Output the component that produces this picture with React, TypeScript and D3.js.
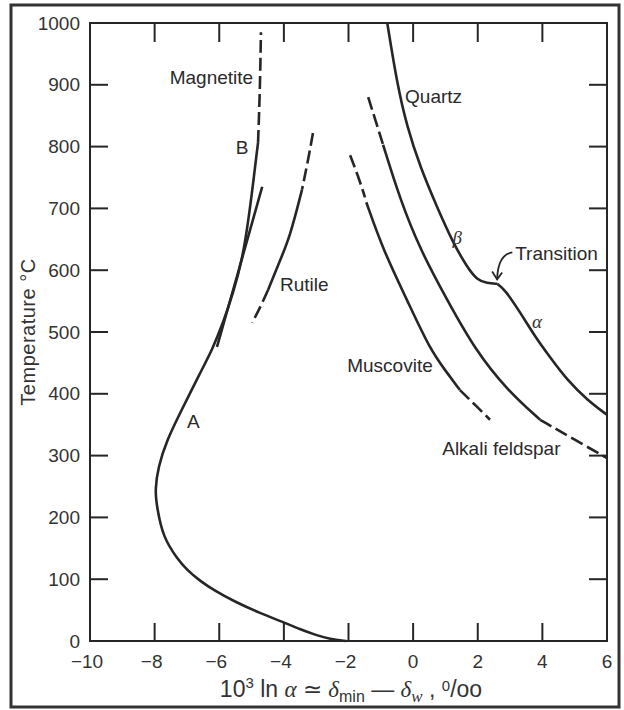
import React, { useRef, useEffect } from 'react';
import * as d3 from 'd3';

// x = 10^3 ln alpha (per mil), y = temperature (°C)
const xTicks = [-10, -8, -6, -4, -2, 0, 2, 4, 6];
const yTicks = [0, 100, 200, 300, 400, 500, 600, 700, 800, 900, 1000];

// magnetite curve A -> B (solid) and its dashed extension
const magnetiteAB: [number, number][] = [
  [-2.07, 0], [-2.57, 3], [-3.03, 10], [-3.5, 19], [-3.9, 28], [-4.74, 45], [-5.57, 65],
  [-6.13, 81], [-6.59, 97], [-7.0, 115], [-7.31, 134], [-7.74, 168], [-7.93, 217],
  [-7.99, 244], [-7.89, 282], [-7.62, 325], [-7.21, 369], [-6.59, 434], [-6.22, 471],
  [-5.88, 515], [-5.57, 563], [-5.29, 617], [-5.11, 676], [-4.95, 741], [-4.83, 794],
  [-4.8, 806],
];
const magnetiteDash: [number, number][] = [[-4.8, 806], [-4.74, 892], [-4.71, 985]];
const magnetiteLine: [number, number][] = [[-6.07, 476], [-5.37, 605], [-4.67, 735]];

const rutileTopDash: [number, number][] = [[-3.1, 822], [-3.25, 778], [-3.44, 730]];
const rutileSolid: [number, number][] = [[-3.44, 730], [-3.81, 654], [-4.15, 612], [-4.49, 568]];
const rutileLowDash: [number, number][] = [[-4.49, 568], [-4.74, 539], [-4.98, 515]];

const quartzBeta: [number, number][] = [
  [-0.8, 1000], [-0.5, 903], [-0.19, 832], [0.22, 767], [0.74, 702], [1.24, 644],
  [1.67, 605], [1.98, 584], [2.29, 579], [2.6, 578],
];
const quartzAlpha: [number, number][] = [
  [2.6, 578], [2.85, 568], [3.31, 532], [3.78, 492], [4.24, 459], [4.77, 422],
  [5.39, 390], [6.0, 366],
];

const feldsparTopDash: [number, number][] = [[-1.39, 880], [-1.15, 840], [-0.93, 803]];
const feldsparSolid: [number, number][] = [
  [-0.93, 803], [-0.4, 714], [0.22, 633], [1.05, 552], [1.92, 471], [2.91, 406], [3.93, 358],
];
const feldsparLowDash: [number, number][] = [[3.93, 358], [5.02, 325], [6.0, 296]];

const muscoviteTopDash: [number, number][] = [[-1.95, 786], [-1.7, 752], [-1.49, 718]];
const muscoviteSolid: [number, number][] = [
  [-1.45, 710], [-0.93, 633], [-0.19, 552], [0.53, 471], [1.05, 434], [1.45, 406],
];
const muscoviteLowDash: [number, number][] = [[1.45, 406], [1.92, 382], [2.38, 358]];

const App = () => {
  const ref = useRef<SVGSVGElement>(null);

  useEffect(() => {
    if (!ref.current) return;
    const svg = d3.select(ref.current);
    svg.selectAll('*').remove();

    const left = 90, right = 607, top = 23, bottom = 641;
    const x = d3.scaleLinear().domain([-10, 6]).range([left, right]);
    const y = d3.scaleLinear().domain([0, 1000]).range([bottom, top]);
    const ink = '#262626';
    const font = '"Liberation Sans", Arial, Helvetica, sans-serif';
    const serif = '"Liberation Serif", "DejaVu Serif", serif';

    svg.append('rect').attr('width', 624).attr('height', 710).attr('fill', '#fff');
    svg.append('rect')
      .attr('x', 11).attr('y', 5).attr('width', 608).attr('height', 702)
      .attr('fill', 'none').attr('stroke', '#333').attr('stroke-width', 3);

    // plot box
    svg.append('rect')
      .attr('x', left).attr('y', top).attr('width', right - left).attr('height', bottom - top)
      .attr('fill', 'none').attr('stroke', ink).attr('stroke-width', 2);

    const tk = svg.append('g').attr('stroke', ink).attr('stroke-width', 2);
    xTicks.slice(1, -1).forEach(t => {
      tk.append('line').attr('x1', x(t)).attr('x2', x(t)).attr('y1', bottom).attr('y2', bottom - 18);
      tk.append('line').attr('x1', x(t)).attr('x2', x(t)).attr('y1', top).attr('y2', top + 19);
    });
    yTicks.slice(1, -1).forEach(t => {
      tk.append('line').attr('x1', left).attr('x2', left + 18).attr('y1', y(t)).attr('y2', y(t));
      tk.append('line').attr('x1', right).attr('x2', right - 18).attr('y1', y(t)).attr('y2', y(t));
    });

    svg.append('g').selectAll('text').data(xTicks).enter().append('text')
      .attr('x', d => x(d) + (d < 0 ? -3 : 0)).attr('y', 668)
      .attr('text-anchor', 'middle').attr('font-family', font).attr('font-size', 19)
      .attr('fill', '#333')
      .text(d => (d < 0 ? '\u2212' + Math.abs(d) : String(d)));

    svg.append('g').selectAll('text').data(yTicks).enter().append('text')
      .attr('x', 80).attr('y', d => y(d) + 6.5)
      .attr('text-anchor', 'end').attr('font-family', font).attr('font-size', 19)
      .attr('fill', '#333')
      .text(d => String(d));

    // axis titles
    svg.append('text')
      .attr('transform', 'translate(35,332) rotate(-90)')
      .attr('text-anchor', 'middle').attr('font-family', font).attr('font-size', 20)
      .attr('letter-spacing', 0.5).attr('fill', '#333')
      .text('Temperature\u00a0°C');

    const xt = svg.append('text')
      .attr('x', 351).attr('y', 697).attr('text-anchor', 'middle')
      .attr('font-family', font).attr('font-size', 23).attr('fill', '#333');
    xt.append('tspan').text('10');
    xt.append('tspan').attr('dy', -9).attr('font-size', 15).text('3');
    xt.append('tspan').attr('dy', 9).text(' ln ');
    xt.append('tspan').attr('font-family', serif).attr('font-style', 'italic').text('α');
    xt.append('tspan').text(' ≃ ');
    xt.append('tspan').attr('font-family', serif).attr('font-style', 'italic').text('δ');
    xt.append('tspan').attr('dy', 5).attr('font-size', 16).text('min');
    xt.append('tspan').attr('dy', -5).text(' \u2014 ');
    xt.append('tspan').attr('font-family', serif).attr('font-style', 'italic').text('δ');
    xt.append('tspan').attr('dy', 5).attr('font-size', 17).attr('font-family', serif)
      .attr('font-style', 'italic').text('w');
    xt.append('tspan').attr('dy', -5).text(' , ');
    xt.append('tspan').attr('dy', -6).attr('font-size', 15).text('0');
    xt.append('tspan').attr('dy', 6).text('/oo');

    // curves
    const line = d3.line<[number, number]>()
      .x(d => x(d[0])).y(d => y(d[1]))
      .curve(d3.curveBasis);

    const solid = [magnetiteAB, magnetiteLine, rutileSolid, quartzBeta, quartzAlpha,
      feldsparSolid, muscoviteSolid];
    const dashed = [magnetiteDash, rutileTopDash, rutileLowDash, feldsparTopDash,
      feldsparLowDash, muscoviteTopDash, muscoviteLowDash];

    const cg = svg.append('g').attr('fill', 'none').attr('stroke', ink)
      .attr('stroke-width', 2.6).attr('stroke-linecap', 'butt');
    solid.forEach(s => cg.append('path').attr('d', line(s)));
    dashed.forEach(s => cg.append('path').attr('d', line(s)).attr('stroke-dasharray', '13 5'));

    // transition arrow
    const ax0 = x(3.07), ay0 = y(629), ax1 = x(2.6), ay1 = y(585);
    svg.append('path')
      .attr('d', `M${ax0},${ay0} Q${x(2.62)},${y(625)} ${ax1},${ay1}`)
      .attr('fill', 'none').attr('stroke', ink).attr('stroke-width', 1.8);
    svg.append('path')
      .attr('d', `M${ax1 - 5},${ay1 - 8} L${ax1},${ay1} L${ax1 + 5},${ay1 - 7}`)
      .attr('fill', 'none').attr('stroke', ink).attr('stroke-width', 1.8);

    // labels
    const labels: [string, number, number, string][] = [
      ['Magnetite', -4.95, 901, 'end'],
      ['B', -5.1, 788, 'end'],
      ['Rutile', -4.12, 566, 'start'],
      ['Quartz', -0.25, 870, 'start'],
      ['Muscovite', -2.04, 436, 'start'],
      ['Alkali feldspar', 0.9, 301, 'start'],
      ['A', -7.0, 344, 'start'],
      ['Transition', 3.16, 617, 'start'],
    ];
    svg.append('g').selectAll('text').data(labels).enter().append('text')
      .attr('x', d => x(d[1])).attr('y', d => y(d[2]))
      .attr('text-anchor', d => d[3])
      .attr('font-family', font).attr('font-size', 19).attr('fill', '#2a2a2a')
      .text(d => d[0]);

    svg.append('text').attr('x', x(1.22)).attr('y', y(643))
      .attr('font-family', serif).attr('font-style', 'italic').attr('font-size', 19)
      .attr('fill', '#333').text('β');
    svg.append('text').attr('x', x(3.68)).attr('y', y(507))
      .attr('font-family', serif).attr('font-style', 'italic').attr('font-size', 19)
      .attr('fill', '#333').text('α');
  }, []);

  return (
    <svg ref={ref} width={624} height={710}
      style={{ position: 'absolute', left: 0, top: 0, display: 'block' }} />
  );
};

export default App;
